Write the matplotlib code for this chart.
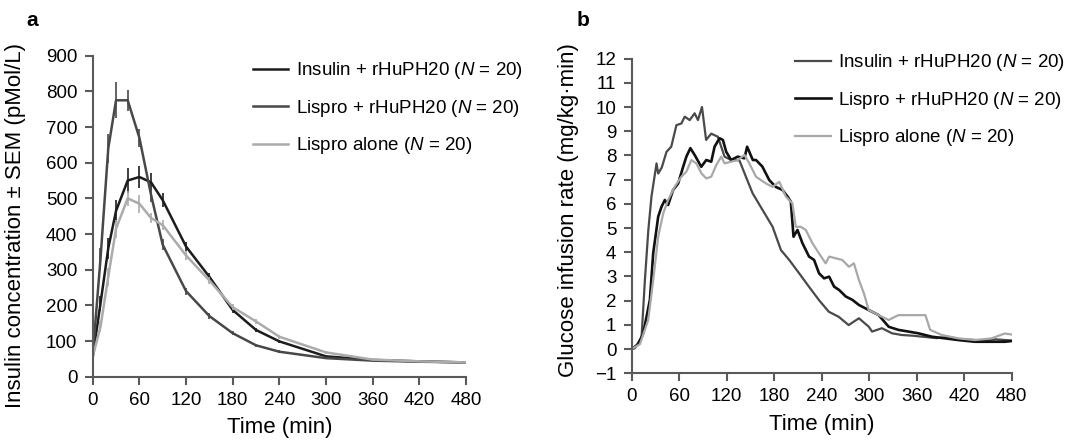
import matplotlib
matplotlib.use("Agg")
import matplotlib.pyplot as plt
import numpy as np

plt.rcParams["font.family"] = ["Liberation Sans", "DejaVu Sans"]
plt.rcParams["mathtext.fontset"] = "custom"
plt.rcParams["mathtext.rm"] = "Liberation Sans"
plt.rcParams["mathtext.it"] = "Liberation Sans:italic"

# ---- panel a: insulin concentration (pMol/L), mean +- SEM
time_a = [0, 10, 20, 30, 45, 60, 75, 90, 120, 150, 180, 210, 240, 300, 360, 420, 480]
insulin_a = [55, 205, 360, 465, 550, 560, 545, 495, 365, 280, 187, 131, 99, 57, 47, 43, 40]
insulin_a_sem = [5, 20, 30, 30, 35, 30, 25, 20, 12, 10, 8, 6, 5, 4, 3, 3, 3]
lispro_ph_a = [60, 330, 640, 775, 775, 670, 510, 370, 240, 170, 122, 88, 70, 52, 45, 42, 40]
lispro_ph_a_sem = [5, 30, 40, 50, 30, 25, 20, 15, 10, 8, 6, 5, 4, 3, 3, 3, 3]
lispro_a = [55, 140, 280, 415, 500, 485, 445, 425, 340, 270, 195, 155, 112, 68, 48, 43, 40]
lispro_a_sem = [5, 15, 25, 25, 20, 25, 15, 15, 12, 10, 8, 6, 5, 4, 3, 3, 3]

# ---- panel b: glucose infusion rate (mg/kg.min)
time_b1 = [0, 4, 12.5, 16.7, 21, 25, 31.4, 33.5, 38, 44, 50, 56.5, 62.8, 67, 73.3, 79.5, 83.7,
           88.8, 94, 100.5, 108.9, 117.3, 125.6, 136, 144.5, 152.8, 165.4, 178, 188.5, 199,
           211.5, 224, 236.6, 249, 261.5, 274, 287, 299.5, 303.6, 316, 328.8, 341, 355, 370,
           385, 400, 415, 430, 445, 460, 480]
gir_b1 = [0, 0.03, 0.5, 2.85, 4.9, 6.3, 7.67, 7.25, 7.5, 8.15, 8.36, 9.25, 9.32, 9.6, 9.46, 9.74,
          9.46, 10.0, 8.64, 8.9, 8.77, 7.95, 7.81, 7.8, 7.1, 6.43, 5.74, 5.05, 4.09, 3.68, 3.13,
          2.57, 2.02, 1.54, 1.33, 0.99, 1.27, 0.92, 0.72, 0.86, 0.65, 0.58, 0.55, 0.5, 0.45,
          0.5, 0.4, 0.38, 0.35, 0.4, 0.35]

time_b2 = [0, 8.3, 14.6, 23, 27.2, 33.5, 37.7, 41.9, 46, 52.3, 58.7, 65, 69.1, 74.1, 79.5, 87.9,
           94.2, 100.5, 104.7, 111, 115.2, 119.4, 125.6, 134, 142.4, 145.8, 153, 157, 165,
           173.8, 182, 190.6, 196.8, 201, 204.4, 209.4, 215.7, 224, 230.4, 236.6, 243, 249.4,
           255.6, 262, 270.4, 278.8, 287, 299.4, 312, 324.6, 337, 349.7, 362, 379, 395.8,
           412.6, 433.5, 454.5, 471, 480]
gir_b2 = [0, 0.2, 0.65, 2.03, 3.96, 5.47, 5.88, 6.16, 5.95, 6.57, 6.84, 7.53, 7.95, 8.3, 8.02,
          7.53, 7.81, 7.74, 8.36, 8.71, 8.64, 8.15, 7.81, 7.95, 7.88, 8.36, 7.81, 7.81, 7.54,
          6.98, 6.7, 6.57, 6.3, 6.09, 4.64, 4.92, 4.37, 3.82, 3.68, 3.13, 2.92, 2.99, 2.58,
          2.44, 2.17, 2.03, 1.82, 1.61, 1.4, 0.92, 0.79, 0.72, 0.65, 0.51, 0.44, 0.37, 0.3,
          0.3, 0.3, 0.33]

time_b3 = [0, 10.4, 20.9, 27.2, 33.5, 39.8, 46, 54.4, 62.8, 69.1, 75.4, 81.7, 88, 94.2, 100.5,
           106.8, 113.1, 117.3, 125.6, 134, 142.4, 148.6, 157, 169.6, 178, 186.4, 194.7, 203,
           207.3, 213.6, 219.9, 228.3, 236.6, 245, 249.4, 257.6, 266, 274.4, 280.7, 287, 293.3,
           299.4, 312, 324.6, 333, 337, 355, 371, 377, 391.6, 412.6, 433.5, 454.5, 471, 480]
gir_b3 = [0, 0.2, 1.2, 2.85, 4.64, 5.6, 6.16, 6.71, 7.12, 7.33, 7.81, 7.67, 7.26, 7.05, 7.12,
          7.6, 7.95, 7.67, 7.74, 7.81, 8.02, 7.67, 7.12, 6.84, 6.7, 6.91, 6.3, 6.02, 5.05,
          5.05, 4.92, 4.37, 3.95, 3.54, 3.82, 3.75, 3.68, 3.4, 3.54, 2.85, 2.3, 1.61, 1.4,
          1.2, 1.34, 1.4, 1.4, 1.4, 0.79, 0.58, 0.44, 0.37, 0.44, 0.64, 0.6]

labels = ["Insulin + rHuPH20 ($N$ = 20)", "Lispro + rHuPH20 ($N$ = 20)", "Lispro alone ($N$ = 20)"]
time_ticks = [0, 60, 120, 180, 240, 300, 360, 420, 480]

FS = 13.5      # ticks and legend
LFS = 16       # axis labels
AXCOL = "#5a5a5a"


def style_axes(ax):
    for side in ["top", "right"]:
        ax.spines[side].set_visible(False)
    for side in ["left", "bottom"]:
        ax.spines[side].set_color(AXCOL)
        ax.spines[side].set_linewidth(1.5)
    ax.tick_params(direction="out", length=6, width=1.5, color=AXCOL, labelsize=FS, pad=5)
    ax.set_xticks(time_ticks)
    ax.set_xlim(0, 480)
    ax.set_xlabel("Time (min)", fontsize=LFS, labelpad=6)


def add_legend(ax, x, y):
    leg = ax.legend(loc="upper left", bbox_to_anchor=(x, y), bbox_transform=fig.transFigure,
                    frameon=False, fontsize=FS, handlelength=1.9, handletextpad=0.4,
                    labelspacing=0.88, borderpad=0, borderaxespad=0)
    return leg


fig = plt.figure(figsize=(10.73, 4.45), dpi=100)

# panel a
ax_a = fig.add_axes([0.0864, 0.1535, 0.3479, 0.7213])
series_a = [(insulin_a, insulin_a_sem, "#1c1c1c"),
            (lispro_ph_a, lispro_ph_a_sem, "#484848"),
            (lispro_a, lispro_a_sem, "#ababab")]
for (vals, sem, col), lab in zip(series_a, labels):
    ax_a.errorbar(time_a, vals, yerr=sem, fmt="none", ecolor=col, elinewidth=1.2, capsize=0)
    ax_a.plot(time_a, vals, color=col, lw=1.8, label=lab)
style_axes(ax_a)
ax_a.set_ylim(0, 900)
ax_a.set_yticks(np.arange(0, 901, 100))
ax_a.set_ylabel("Insulin concentration \u00b1 SEM (pMol/L)", fontsize=LFS)
ax_a.yaxis.set_label_coords(-0.178, 0.47)
add_legend(ax_a, 0.2354, 0.865)
fig.text(0.025, 0.955, "a", fontsize=15, fontweight="bold", va="center")

# panel b
ax_b = fig.add_axes([0.5887, 0.1613, 0.3542, 0.7070])
ax_b.plot(time_b1, gir_b1, color="#4a4a4a", lw=1.6, label=labels[0])
ax_b.plot(time_b2, gir_b2, color="#111111", lw=1.9, label=labels[1])
ax_b.plot(time_b3, gir_b3, color="#a8a8a8", lw=1.6, label=labels[2])
style_axes(ax_b)
ax_b.set_ylim(-1, 12)
ax_b.set_yticks(np.arange(-1, 13, 1))
ax_b.set_ylabel("Glucose infusion rate (mg/kg\u00b7min)", fontsize=LFS)
ax_b.yaxis.set_label_coords(-0.138, 0.52)
add_legend(ax_b, 0.741, 0.883)
fig.text(0.537, 0.955, "b", fontsize=15, fontweight="bold", va="center")

fig.savefig("out.png", dpi=100)
